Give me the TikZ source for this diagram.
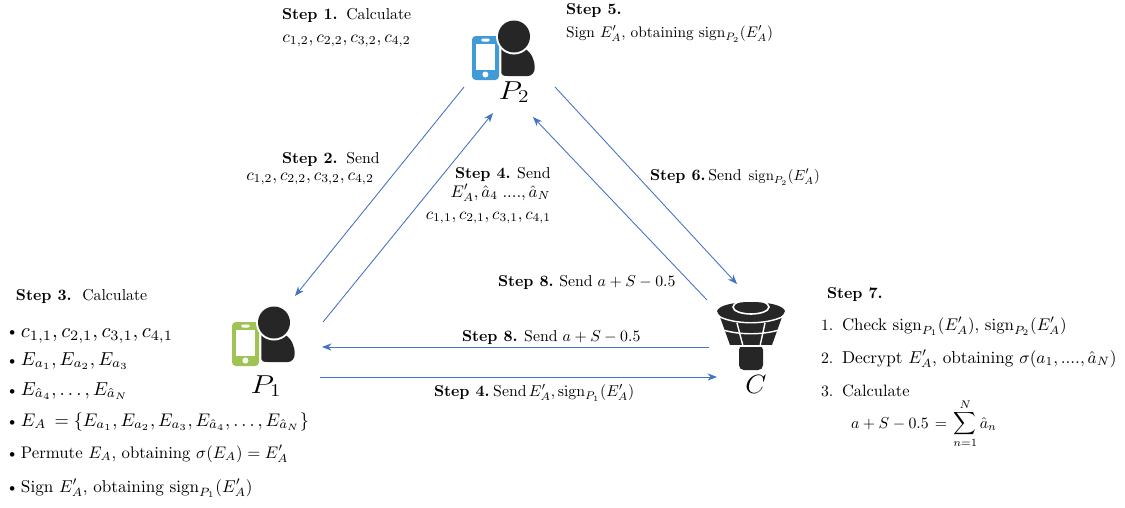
\documentclass[tikz,border=0pt]{standalone}
\usepackage{amsmath}
\usetikzlibrary{arrows.meta}
\definecolor{linkblue}{RGB}{68,114,196}
\definecolor{iconblack}{RGB}{38,38,38}
\definecolor{phoneblue}{RGB}{65,155,215}
\definecolor{phonegreen}{RGB}{160,195,85}
\newcommand{\signof}[1]{\mathrm{sign}_{P_{#1}}(E'_A)}
\newcommand{\stepname}[1]{\textbf{Step #1.}}
\newcommand{\sz}[2]{\scalebox{#1}{#2}}
\newcommand{\asum}{$a+S-0.5$}
\tikzset{
  linkarrow/.style={draw=linkblue,line width=0.55pt,-{Stealth[length=6pt,width=4.6pt]}},
  txt/.style={anchor=base west,inner sep=0pt,outer sep=0pt},
  ctxt/.style={anchor=base,inner sep=0pt,outer sep=0pt},
  party/.style={anchor=base,inner sep=0pt,outer sep=0pt,font=\LARGE},
  pics/usericon/.style={code={
    \fill[#1,rounded corners=2.4pt] (0,0) rectangle (27,44);
    \fill[white] (4.3,8) rectangle (22.7,33.5);
    \fill[white,rounded corners=1pt] (9,2.5) rectangle (18,5.5);
    \fill[white] (13.4,38.5) circle [radius=3];
    \fill[iconblack] (29.3,10) -- (29.3,37) .. controls (29.5,39) and (31,40) .. (36,40)
      -- (56,40) .. controls (60,40) and (62.7,36) .. (62.7,32)
      .. controls (62.7,24) and (60,17) .. (52,12) -- cycle;
    \fill[white] (42,0.5) circle [radius=18];
    \fill[iconblack] (42,0.5) circle [radius=16];
  }},
}
\begin{document}
\begin{tikzpicture}[x=0.633pt,y=-0.633pt]
\useasboundingbox (0,0) rectangle (1125,507);
% icons
\pic at (472,36) {usericon=phoneblue};
\pic at (232,322) {usericon=phonegreen};
% tower icon
\fill[iconblack] (720,317) -- (782,317) -- (772,345) -- (730,345) -- cycle;
\fill[iconblack,rounded corners=3pt] (739,345) rectangle (763,370);
\fill[iconblack] (717,311) .. controls (719,305) and (735,302) .. (751,302)
  .. controls (767,302) and (783,305) .. (785,311)
  .. controls (783,319) and (767,325) .. (751,325)
  .. controls (735,325) and (719,319) .. (717,311) -- cycle;
\draw[white,line width=0.9pt] (718,316) .. controls (735,325) and (767,325) .. (784,316);
\draw[white,line width=0.9pt] (723,330) .. controls (740,335) and (762,335) .. (779,330);
\draw[white,line width=0.9pt] (737,323) -- (743,346);
\draw[white,line width=0.9pt] (765,323) -- (760,346);
\draw[white,line width=0.9pt] (727,346) -- (775,346);
\draw[white,line width=1pt] (751,307) ellipse [x radius=18,y radius=7];
% party labels
\node[party] (P2) at (514,99) {\scalebox{1.12}[0.95]{$P_2$}};
\node[party] (P1) at (266,393) {\scalebox{1.12}[0.95]{$P_1$}};
\node[party] (C) at (756,393) {\scalebox{1}[0.97]{$C$}};
% connector ends
\coordinate (p2out1) at (464,87);
\coordinate (p1in1) at (295,296);
\coordinate (p1out1) at (323,322);
\coordinate (p2in1) at (493,113);
\coordinate (cout1) at (707,300);
\coordinate (p2in2) at (533,117);
\coordinate (p2out2) at (555,87);
\coordinate (cin1) at (737,284);
\coordinate (cout2) at (709,347);
\coordinate (p1in2) at (322,347);
\coordinate (p1out2) at (320,377);
\coordinate (cin2) at (717,377);
\draw[linkarrow] (p2out1) -- (p1in1);
\draw[linkarrow] (p1out1) -- (p2in1);
\draw[linkarrow] (cout1) -- (p2in2);
\draw[linkarrow] (p2out2) -- (cin1);
\draw[linkarrow] (cout2) -- (p1in2);
\draw[linkarrow] (p1out2) -- (cin2);
% step 1
\node[txt] (s1a) at (282,19) {\stepname{1}\hspace{5.4pt}Calculate};
\node[ctxt] (s1b) at (346.5,42) {\sz{1.095}{$c_{1,2},c_{2,2},c_{3,2},c_{4,2}$}};
% step 5
\node[txt] (s5a) at (566,14) {\stepname{5}};
\node[txt] (s5b) at (566,37) {\sz{0.97}{Sign $E'_A$, obtaining $\signof{2}$}};
% step 2
\node[txt] (s2a) at (282,163) {\stepname{2}\hspace{5.4pt}Send};
\node[ctxt] (s2b) at (310,180) {\sz{1.09}{$c_{1,2},c_{2,2},c_{3,2},c_{4,2}$}};
% step 4 (upper)
\node[txt] (s4a) at (455,178) {\stepname{4}\hspace{4.1pt}Send};
\node[ctxt] (s4b) at (500.5,197) {\sz{1.065}{$E'_A,\hat a_4\;....,\hat a_N$}};
\node[ctxt] (s4c) at (488.5,219) {\sz{1.07}{$c_{1,1},c_{2,1},c_{3,1},c_{4,1}$}};
% step 6
\node[txt] (s6) at (650,180) {\stepname{6}\hspace{1.6pt}Send\hspace{4.4pt}\sz{0.93}{$\signof{2}$}};
% step 8
\node[txt] (s8a) at (498,286) {\stepname{8}\hspace{3.5pt}Send\hspace{3.2pt}\asum};
\node[txt] (s8b) at (462,341) {\stepname{8}\hspace{4.1pt}Send\hspace{3.2pt}\asum};
% step 4 (lower)
\node[txt] (s4d) at (434,396) {\stepname{4}\hspace{2.2pt}Send\hspace{1.5pt}$E'_A$,\hspace{1.6pt}$\signof{1}$};
% step 3
\node[txt] (s3) at (16,300) {\stepname{3}\ \ Calculate};
\foreach \nm/\yy in {b1/336,b2/365,b3/395,b4/426,b5/458,b6/492}
  \node[txt] (\nm) at (6,\yy) {\textbullet};
\node[txt] (t1) at (21,337) {\sz{1.30}{$c_{1,1},c_{2,1},c_{3,1},c_{4,1}$}};
\node[txt] (t2) at (21,365) {\sz{1.19}{$E_{a_1},E_{a_2},E_{a_3}$}};
\node[txt] (t3) at (21,395) {\sz{1.19}{$E_{\hat a_4},\dots,E_{\hat a_N}$}};
\node[txt] (t4) at (21,426) {\sz{1.157}{$E_A\,=\{E_{a_1},E_{a_2},E_{a_3},E_{\hat a_4},\dots,E_{\hat a_N}\}$}};
\node[txt] (t5) at (21,458) {\sz{1.06}{Permute $E_A$, obtaining $\sigma(E_A)=E'_A$}};
\node[txt] (t6) at (21,492) {\sz{1.085}{Sign $E'_A$, obtaining $\signof{1}$}};
% step 7
\node[txt] (s7) at (827,298) {\stepname{7}};
\node[txt] (n1) at (821,330) {1.};
\node[txt] (n2) at (821,363) {2.};
\node[txt] (n3) at (821,396) {3.};
\node[txt] (l1) at (842,330) {\sz{1.07}{Check $\signof{1}$, $\signof{2}$}};
\node[txt] (l2) at (842,363) {\sz{1.09}{Decrypt $E'_A$, obtaining $\sigma(a_1,....,\hat a_N)$}};
\node[txt] (l3) at (842,396) {\sz{1.04}{Calculate}};
\node[txt] (l4) at (851,428) {\thickmuskip=7mu $\displaystyle a+S-0.5=\sum_{n=1}^{N}\hat a_n$};
\end{tikzpicture}
\end{document}
